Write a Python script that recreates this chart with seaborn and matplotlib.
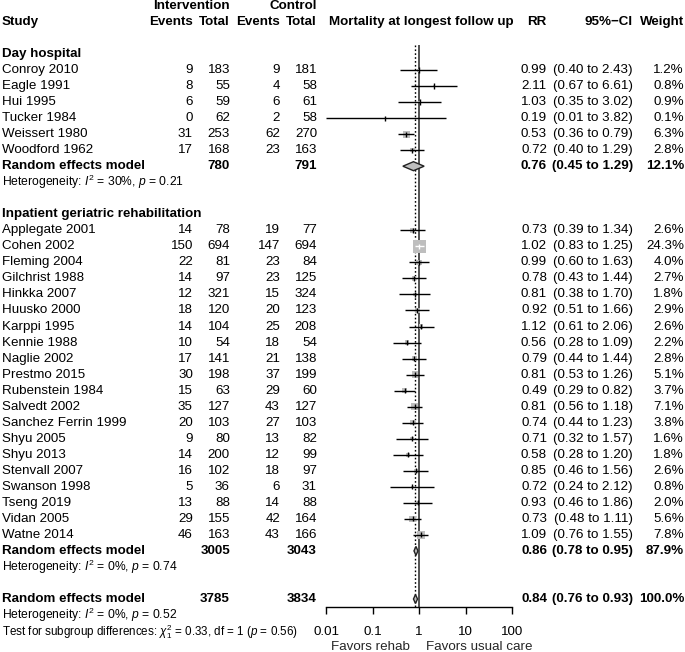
import numpy as np
import pandas as pd
import matplotlib
matplotlib.use("Agg")
import matplotlib.pyplot as plt
import matplotlib.transforms as mtransforms
from matplotlib.ticker import NullLocator
import seaborn as sns

# ---------------- data ----------------
dh_label = "Day hospital"
dh_studies = ["Conroy 2010", "Eagle 1991", "Hui 1995", "Tucker 1984", "Weissert 1980", "Woodford 1962"]
dh_ev_int = [9, 8, 6, 0, 31, 17]
dh_n_int = [183, 55, 59, 62, 253, 168]
dh_ev_ctl = [9, 4, 6, 2, 62, 23]
dh_n_ctl = [181, 58, 61, 58, 270, 163]
dh_rr = [0.99, 2.11, 1.03, 0.19, 0.53, 0.72]
dh_lo = [0.40, 0.67, 0.35, 0.01, 0.36, 0.40]
dh_hi = [2.43, 6.61, 3.02, 3.82, 0.79, 1.29]
dh_w = [1.2, 0.8, 0.9, 0.1, 6.3, 2.8]
dh_summary = [0.76, 0.45, 1.29]
dh_summary_w = 12.1
dh_totals = [780, 791]
dh_het = ["30%", "0.21"]

ig_label = "Inpatient geriatric rehabilitation"
ig_studies = ["Applegate 2001", "Cohen 2002", "Fleming 2004", "Gilchrist 1988", "Hinkka 2007",
              "Huusko 2000", "Karppi 1995", "Kennie 1988", "Naglie 2002", "Prestmo 2015",
              "Rubenstein 1984", "Salvedt 2002", "Sanchez Ferrin 1999", "Shyu 2005", "Shyu 2013",
              "Stenvall 2007", "Swanson 1998", "Tseng 2019", "Vidan 2005", "Watne 2014"]
ig_ev_int = [14, 150, 22, 14, 12, 18, 14, 10, 17, 30, 15, 35, 20, 9, 14, 16, 5, 13, 29, 46]
ig_n_int = [78, 694, 81, 97, 321, 120, 104, 54, 141, 198, 63, 127, 103, 80, 200, 102, 36, 88, 155, 163]
ig_ev_ctl = [19, 147, 23, 23, 15, 20, 25, 18, 21, 37, 29, 43, 27, 13, 12, 18, 6, 14, 42, 43]
ig_n_ctl = [77, 694, 84, 125, 324, 123, 208, 54, 138, 199, 60, 127, 103, 82, 99, 97, 31, 88, 164, 166]
ig_rr = [0.73, 1.02, 0.99, 0.78, 0.81, 0.92, 1.12, 0.56, 0.79, 0.81, 0.49, 0.81, 0.74, 0.71, 0.58,
         0.85, 0.72, 0.93, 0.73, 1.09]
ig_lo = [0.39, 0.83, 0.60, 0.43, 0.38, 0.51, 0.61, 0.28, 0.44, 0.53, 0.29, 0.56, 0.44, 0.32, 0.28,
         0.46, 0.24, 0.46, 0.48, 0.76]
ig_hi = [1.34, 1.25, 1.63, 1.44, 1.70, 1.66, 2.06, 1.09, 1.44, 1.26, 0.82, 1.18, 1.23, 1.57, 1.20,
         1.56, 2.12, 1.86, 1.11, 1.55]
ig_w = [2.6, 24.3, 4.0, 2.7, 1.8, 2.9, 2.6, 2.2, 2.8, 5.1, 3.7, 7.1, 3.8, 1.6, 1.8, 2.6, 0.8, 2.0, 5.6, 7.8]
ig_summary = [0.86, 0.78, 0.95]
ig_summary_w = 87.9
ig_totals = [3005, 3043]
ig_het = ["0%", "0.74"]

all_summary = [0.84, 0.76, 0.93]
all_summary_w = 100.0
all_totals = [3785, 3834]
all_het = ["0%", "0.52"]
subgroup_test = ["0.33", "1", "0.56"]

x_ticks = [0.01, 0.1, 1, 10, 100]
x_tick_labels = ["0.01", "0.1", "1", "10", "100"]

# ---------------- layout ----------------
W, H = 685, 652
PX0, STEP = 5.9, 16.03


def row_at(px):
    return (px - PX0) / STEP


sns.set_theme(style="white")
plt.rcParams["font.family"] = ["Liberation Sans", "DejaVu Sans"]
plt.rcParams["mathtext.fontset"] = "custom"
plt.rcParams["mathtext.rm"] = "Liberation Sans"
plt.rcParams["mathtext.it"] = "Liberation Sans:italic"
plt.rcParams["mathtext.bf"] = "Liberation Sans:bold"

FS = 9.6
FS_SMALL = 8.7

fig = plt.figure(figsize=(W / 100, H / 100), dpi=100)
ax_bottom_px = 607
ax = fig.add_axes([326 / W, (H - ax_bottom_px) / H, 186 / W, ax_bottom_px / H])
ax.set_xscale("log")
ax.set_xlim(x_ticks[0], x_ticks[-1])
ax.set_ylim(row_at(ax_bottom_px), row_at(0))
ax.patch.set_alpha(0)

trans = mtransforms.blended_transform_factory(fig.transFigure, ax.transData)


def txt(xpx, row, s, ha="left", bold=False, size=FS):
    ax.text(xpx / W, row, s, transform=trans, ha=ha, va="center", fontsize=size,
            fontweight="bold" if bold else "normal", color="black", clip_on=False)


# header
txt(230, 0, "Intervention", ha="right", bold=True)
txt(317, 0, "Control", ha="right", bold=True)
txt(2, 1, "Study", bold=True)
txt(193, 1, "Events", ha="right", bold=True)
txt(230, 1, "Total", ha="right", bold=True)
txt(280, 1, "Events", ha="right", bold=True)
txt(317, 1, "Total", ha="right", bold=True)
txt(421, 1, "Mortality at longest follow up", ha="center", bold=True)
txt(546, 1, "RR", ha="right", bold=True)
txt(633, 1, "95%\u2212CI", ha="right", bold=True)
txt(684, 1, "Weight", ha="right", bold=True)

groups = [
    (dh_label, dh_studies, dh_ev_int, dh_n_int, dh_ev_ctl, dh_n_ctl, dh_rr, dh_lo, dh_hi, dh_w,
     dh_summary, dh_summary_w, dh_totals, dh_het),
    (ig_label, ig_studies, ig_ev_int, ig_n_int, ig_ev_ctl, ig_n_ctl, ig_rr, ig_lo, ig_hi, ig_w,
     ig_summary, ig_summary_w, ig_totals, ig_het),
]

records = []
summaries = []
row = 3
for (label, studies, ei, ni, ec, nc, rr, lo, hi, w, summ, summ_w, tots, het) in groups:
    txt(2, row, label, bold=True)
    row += 1
    for k in range(len(studies)):
        records.append(dict(study=studies[k], row=row, rr=rr[k], lo=lo[k], hi=hi[k], w=w[k]))
        txt(2, row, studies[k])
        txt(193, row, str(ei[k]), ha="right")
        txt(230, row, str(ni[k]), ha="right")
        txt(280, row, str(ec[k]), ha="right")
        txt(317, row, str(nc[k]), ha="right")
        txt(547, row, f"{rr[k]:.2f}", ha="right")
        txt(633, row, f"({lo[k]:.2f} to {hi[k]:.2f})", ha="right")
        txt(684, row, f"{w[k]:.1f}%", ha="right")
        row += 1
    summaries.append((row, summ))
    txt(2, row, "Random effects model", bold=True)
    txt(230, row, str(tots[0]), ha="right", bold=True)
    txt(317, row, str(tots[1]), ha="right", bold=True)
    txt(547, row, f"{summ[0]:.2f}", ha="right", bold=True)
    txt(633, row, f"({summ[1]:.2f} to {summ[2]:.2f})", ha="right", bold=True)
    txt(684, row, f"{summ_w:.1f}%", ha="right", bold=True)
    row += 1
    txt(2, row, rf"Heterogeneity: $I^2$ = {het[0]}, $p$ = {het[1]}", size=FS_SMALL)
    row += 2

# overall
summaries.append((row, all_summary))
txt(2, row, "Random effects model", bold=True)
txt(230, row, str(all_totals[0]), ha="right", bold=True)
txt(317, row, str(all_totals[1]), ha="right", bold=True)
txt(547, row, f"{all_summary[0]:.2f}", ha="right", bold=True)
txt(633, row, f"({all_summary[1]:.2f} to {all_summary[2]:.2f})", ha="right", bold=True)
txt(684, row, f"{all_summary_w:.1f}%", ha="right", bold=True)
row += 1
txt(2, row, rf"Heterogeneity: $I^2$ = {all_het[0]}, $p$ = {all_het[1]}", size=FS_SMALL)
row += 1
txt(2, row + 0.05,
    rf"Test for subgroup differences: $\chi^2_1$ = {subgroup_test[0]}, df = {subgroup_test[1]} ($p$ = {subgroup_test[2]})",
    size=FS_SMALL - 0.3)
row += 1
fav_row = row
ax.text(410 / W, fav_row, "Favors rehab", transform=trans, ha="right", va="center", fontsize=FS, clip_on=False)
ax.text(426 / W, fav_row, "Favors usual care", transform=trans, ha="left", va="center", fontsize=FS, clip_on=False)

df = pd.DataFrame(records)

# reference lines
y_top = row_at(45)
y_bot = row_at(ax_bottom_px)
ax.vlines(1, y_top, y_bot, color="#444444", lw=1.3, zorder=0.5)
ax.vlines(all_summary[0], y_top, y_bot, color="black", lw=1.0, linestyles=(0, (1.2, 1.6)), zorder=0.6)

# squares (area proportional to weight)
max_side_px = 13.5
max_w = df["w"].max()
sns.scatterplot(data=df, x="rr", y="row", size="w", sizes=(0, (max_side_px * 0.72) ** 2),
                size_norm=(0, max_w), marker="s", color="#BEBEBE", linewidth=0,
                legend=False, ax=ax, zorder=1)

# CI lines: white where the CI lies inside the square
px_per_decade = 186 / np.log10(x_ticks[-1] / x_ticks[0])
half_dec = (max_side_px / 2) * np.sqrt(df["w"] / max_w) / px_per_decade
inside = ((np.log10(df["hi"] / df["rr"]) < half_dec) & (np.log10(df["rr"] / df["lo"]) < half_dec))
line_cols = np.where(inside, "white", "black")
ax.hlines(df["row"], df["lo"], df["hi"], colors=line_cols, lw=1.0, zorder=2)
ax.scatter(df["rr"], df["row"], marker="|", s=14, c=list(line_cols), linewidths=1.0, zorder=3)

# diamonds
for r, (est, lo, hi) in summaries:
    ax.fill([lo, est, hi, est], [r, r - 0.28, r, r + 0.28], facecolor="#BEBEBE",
            edgecolor="#222222", lw=1.0, zorder=3)

# axis styling
for s in ["top", "right", "left"]:
    ax.spines[s].set_visible(False)
ax.spines["bottom"].set_color("black")
ax.spines["bottom"].set_linewidth(1.0)
ax.set_yticks([])
ax.set_xticks(x_ticks)
ax.set_xticklabels(x_tick_labels)
ax.xaxis.set_minor_locator(NullLocator())
ax.tick_params(axis="x", direction="out", length=5, width=1, color="black", pad=9,
               labelsize=FS, labelcolor="black", bottom=True)
ax.set_xlabel("")
ax.set_ylabel("")
ax.grid(False)

fig.savefig("out.png", dpi=100, facecolor="white")
